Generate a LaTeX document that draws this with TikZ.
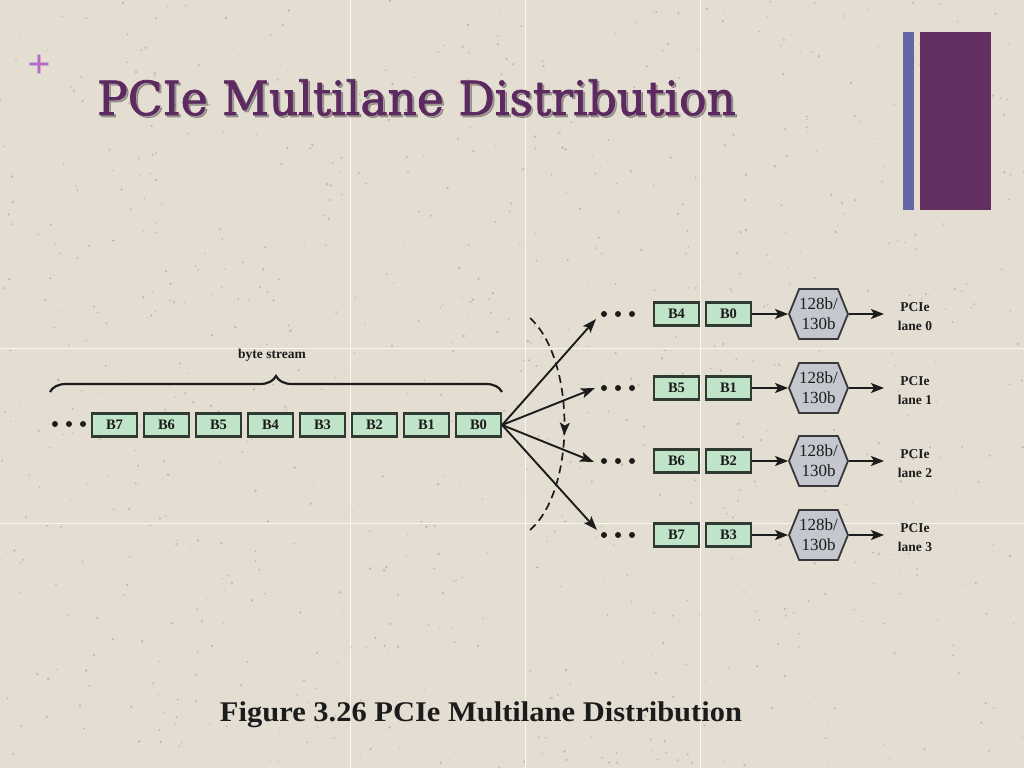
\documentclass[tikz,border=0pt]{standalone}
\usepackage{fontspec}
\usepackage{graphicx}
\setmainfont{Liberation Serif}
\newfontfamily\titlefont[FakeBold=1.6]{DejaVu Serif}
\newfontfamily\plusfont[FakeBold=2]{DejaVu Sans}
\usetikzlibrary{arrows.meta,shapes.symbols,decorations.pathreplacing,decorations.markings}
\definecolor{bg}{RGB}{228,222,210}
\definecolor{speck}{RGB}{150,140,125}
\definecolor{titlecol}{RGB}{92,42,96}
\definecolor{pluscol}{RGB}{184,104,200}
\definecolor{barblue}{RGB}{100,102,168}
\definecolor{barpurple}{RGB}{99,48,97}
\definecolor{boxfill}{RGB}{192,228,200}
\definecolor{boxborder}{RGB}{46,58,50}
\definecolor{hexfill}{RGB}{196,199,206}
\definecolor{hexborder}{RGB}{55,55,60}
\definecolor{ink}{RGB}{28,28,28}
\tikzset{
  byte/.style={draw=boxborder, fill=boxfill, line width=2.2pt, minimum width=45pt, minimum height=23pt, inner sep=0pt, text=ink, font=\bfseries\fontsize{14.5}{14.5}\selectfont},
  hex/.style={signal, signal to=east and west, signal pointer angle=136, draw=hexborder, fill=hexfill, line width=1.8pt, minimum width=57pt, minimum height=50pt, inner sep=0pt, align=center, text=ink, font=\fontsize{17}{20}\selectfont},
  lane/.style={inner sep=0pt, align=center, text=ink, font=\bfseries\fontsize{13.5}{19}\selectfont},
  arr/.style={draw=ink, line width=1.9pt, -{Stealth[length=13pt,width=10pt,inset=3pt]}},
  fan/.style={draw=ink, line width=1.9pt, -{Stealth[length=14pt,width=10pt,inset=3pt]}},
  dot/.style={fill=ink},
  gridline/.style={draw=white, line width=1pt, opacity=0.75},
}
\begin{document}
\begin{tikzpicture}[x=1pt,y=-1pt]
\fill[bg] (0,0) rectangle (1024,768);
\useasboundingbox (0,0) rectangle (1024,768);
% paper texture
\pgfmathsetseed{7}
\foreach \n in {1,...,900} {
  \pgfmathsetmacro{\sx}{1024*rnd}
  \pgfmathsetmacro{\sy}{768*rnd}
  \pgfmathsetmacro{\sr}{0.5+0.9*rnd}
  \fill[speck, opacity=0.45] (\sx,\sy) circle (\sr);
}
% tiling lines
\foreach \x in {350,525,700} \draw[gridline] (\x,0) -- (\x,768);
\foreach \y in {348,523} \draw[gridline] (0,\y) -- (1024,\y);
% header
\node[text=pluscol, font=\plusfont\fontsize{29}{29}\selectfont, inner sep=0pt] (plus) at (39,64) {+};
\node[anchor=base west, inner sep=0pt, text=black, opacity=0.28] (titleshadow) at (99,117) {\titlefont\fontsize{47}{47}\selectfont\scalebox{0.97}[1]{PCIe Multilane Distribution}};
\node[anchor=base west, inner sep=0pt, text=titlecol] (title) at (97,115) {\titlefont\fontsize{47}{47}\selectfont\scalebox{0.97}[1]{PCIe Multilane Distribution}};
\fill[barblue] (903,32) rectangle (914,210);
\fill[barpurple] (920,32) rectangle (991,210);
% byte stream
\foreach \i/\x in {7/114.5,6/166.5,5/218.5,4/270.5,3/322.5,2/374.5,1/426.5,0/478.5}
  \node[byte] (s\i) at (\x,425) {B\i};
\foreach \x in {55,69,83} \fill[dot] (\x,424) circle (3);
\draw[decorate, decoration={brace, amplitude=16pt}, line width=2.2pt, ink] (50,392) -- (502,392);
\node[lane] (bs) at (272,355) {byte stream};
% fan-out
\coordinate (t0) at (596,319);
\coordinate (t1) at (595,388);
\coordinate (t2) at (594,462);
\coordinate (t3) at (597,530);
\foreach \k in {0,1,2,3} \draw[fan] (s0.east) -- (t\k);
\draw[ink, line width=1.7pt, dash pattern=on 8pt off 5pt,
  postaction={decorate},
  decoration={markings, mark=at position 0.55 with {\arrow[solid]{Stealth[length=13pt,width=10pt,inset=3pt]}}}]
  (530,318) .. controls (576,360) and (576,490) .. (530,530);
% lanes
\foreach \r/\a/\b/\y in {0/4/0/314, 1/5/1/388, 2/6/2/461, 3/7/3/535} {
  \foreach \x in {604,618,632} \fill[dot] (\x,\y) circle (3);
  \node[byte] (la\r) at (676.5,\y) {B\a};
  \node[byte] (lb\r) at (728.5,\y) {B\b};
  \node[hex] (h\r) at (818.5,\y) {128b/\\130b};
  \node[lane] (p\r) at (915,\y+3) {PCIe\\lane \r};
  \coordinate (pe\r) at (884,\y);
  \draw[arr] (lb\r) -- (h\r);
  \draw[arr] (h\r) -- (pe\r);
}
% caption
\node[anchor=base, inner sep=0pt, text=ink, font=\bfseries\fontsize{28.5}{28.5}\selectfont] (cap) at (481,721) {\scalebox{1.07}[1]{Figure 3.26 PCIe Multilane Distribution}};
\end{tikzpicture}
\end{document}
